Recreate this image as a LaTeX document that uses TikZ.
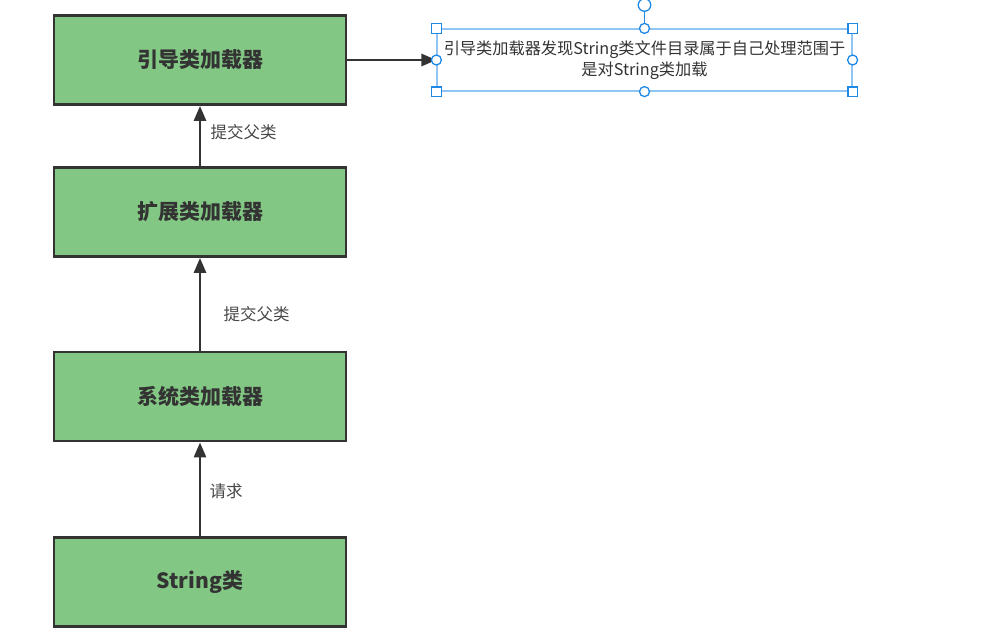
\documentclass[tikz,border=0pt]{standalone}
\usepackage{fontspec}
\setmainfont{Noto Sans CJK SC}
\usepackage{xcolor}
\definecolor{LoaderGreen}{HTML}{82C783}
\definecolor{EdgeGray}{HTML}{333333}
\definecolor{SelBlue}{HTML}{1E88E5}
\definecolor{SelLight}{HTML}{90C4F2}
\usepackage{tikz}
\usetikzlibrary{arrows.meta,positioning}

\tikzset{
  loader/.style={draw=EdgeGray, fill=LoaderGreen, line width=2.8pt,
    minimum width=292pt, minimum height=89pt, inner sep=0pt,
    font=\fontsize{21pt}{24pt}\selectfont\bfseries, text=EdgeGray},
  flow/.style={draw=EdgeGray, line width=2.8pt, -{Triangle[length=15pt,width=12pt]}},
  steplabel/.style={font=\fontsize{16.5pt}{19pt}\selectfont, text=EdgeGray!90, anchor=west},
  handlesq/.style={draw=SelBlue, fill=white, line width=1.3pt, minimum size=9.5pt, inner sep=0pt},
  handlec/.style={draw=SelBlue, fill=white, line width=1.3pt, circle, minimum size=10pt, inner sep=0pt}
}

\begin{document}
\begin{tikzpicture}[x=1pt, y=-1pt]
  \useasboundingbox (0,0) rectangle (984,638);

  % --- Boites de chargeurs ---
  \node[loader] (boot) at (200, 60) {引导类加载器};
  \node[loader] (ext)  at (200, 212) {扩展类加载器};
  \node[loader] (app)  at (200, 396.5) {系统类加载器};
  \node[loader] (str)  at (200, 582) {String类};

  % --- Fleches ---
  \draw[flow] (str.north) -- (app.south);
  \draw[flow] (app.north) -- (ext.south);
  \draw[flow] (ext.north) -- (boot.south);

  \node[steplabel] (l1) at (207, 132) {提交父类};
  \node[steplabel] (l2) at (220, 314) {提交父类};
  \node[steplabel] (l3) at (206, 491) {请求};

  % --- Texte selectionne ---
  \node[draw=SelLight, line width=1.2pt, minimum width=415pt, minimum height=62pt,
        inner sep=0pt, align=center, text=EdgeGray,
        font=\fontsize{16.2pt}{21pt}\selectfont] (note) at (644.5, 60)
    {引导类加载器发现String类文件目录属于自己处理范围于\\是对String类加载};
  \draw[flow] (boot.east) -- (note.west);

  % poignees
  \coordinate (rot) at (644.5, 5);
  \draw[SelBlue, line width=1.3pt] (note.north) -- (rot);
  \node[handlec, minimum size=12.5pt] (hr) at (rot) {};
  \foreach \a in {north west, north east, south west, south east}
    \node[handlesq] at (note.\a) {};
  \foreach \a in {north, south, east, west}
    \node[handlec] at (note.\a) {};
\end{tikzpicture}
\end{document}
